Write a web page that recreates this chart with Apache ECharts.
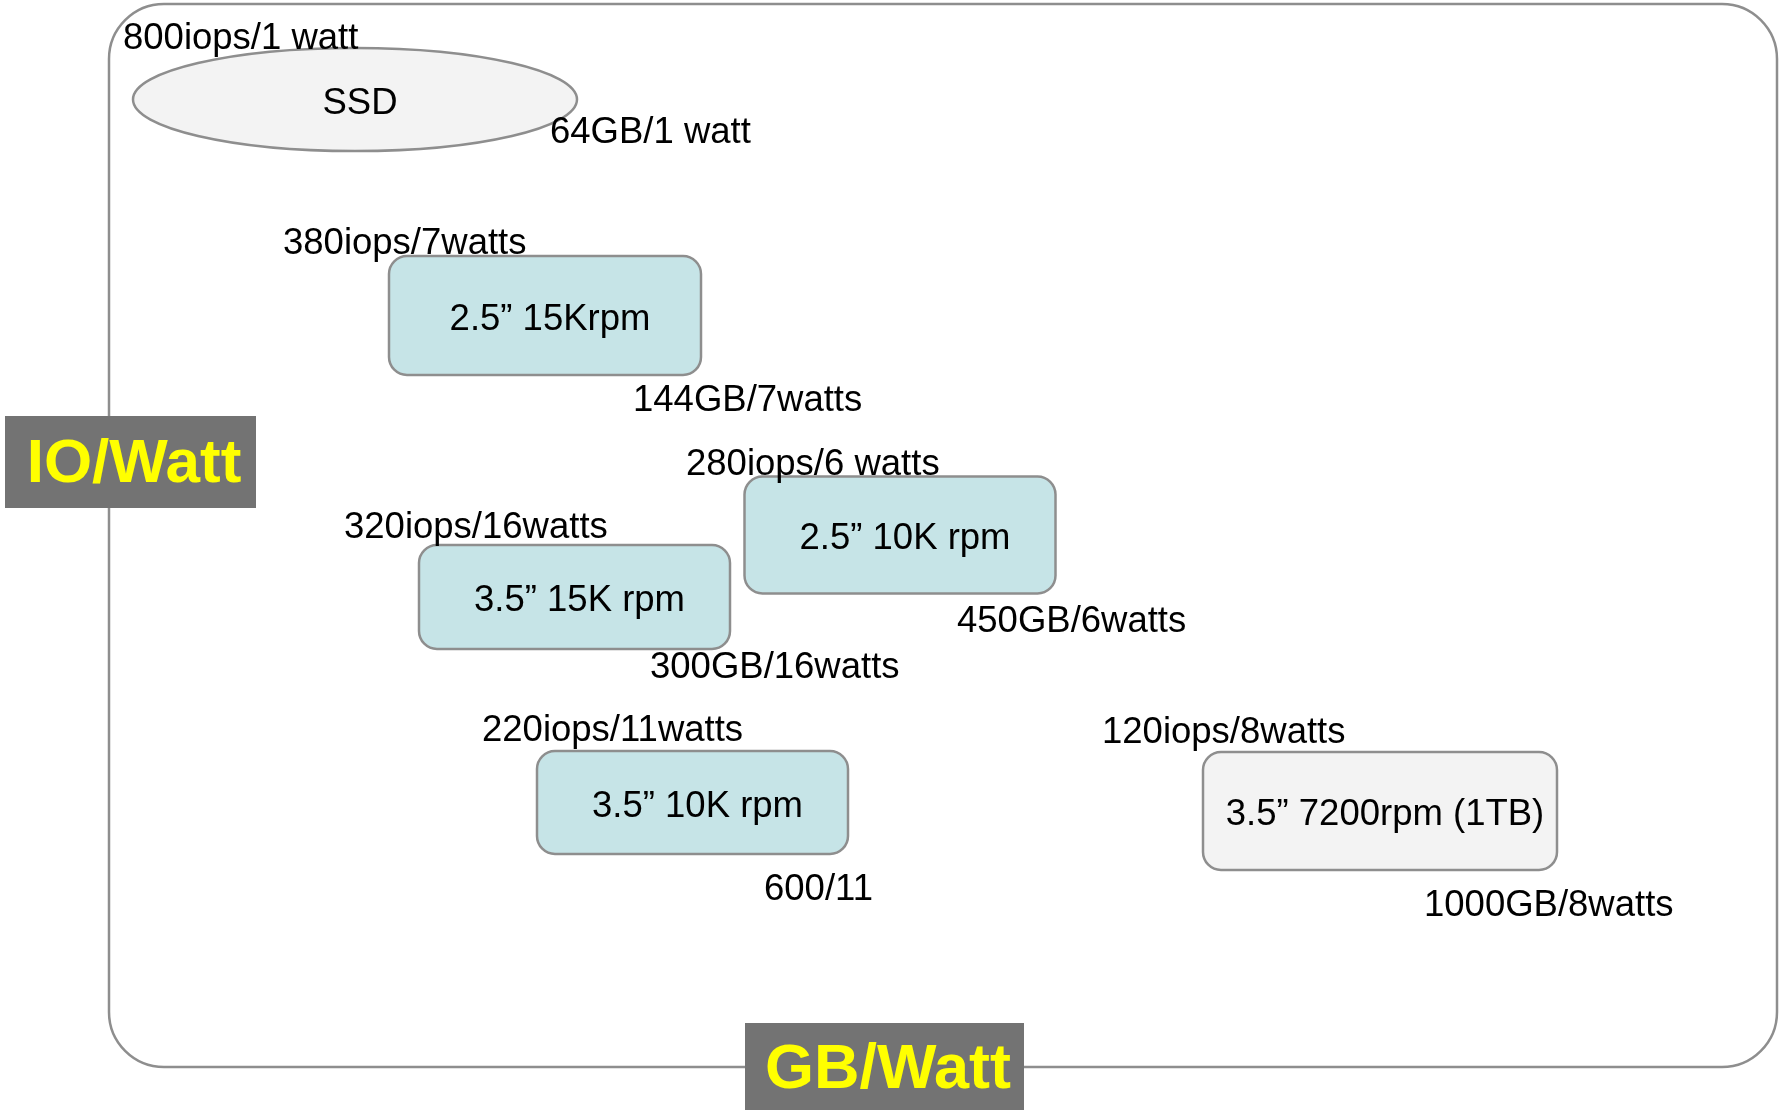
<!DOCTYPE html>
<html>
<head>
<meta charset="utf-8">
<script src="https://cdn.jsdelivr.net/npm/echarts@6/dist/echarts.min.js"></script>
<style>
  html, body { margin: 0; padding: 0; background: #fff; }
  #container { width: 1781px; height: 1110px; }
</style>
</head>
<body>
<div id="container"></div>
<script>
// drives, placed on a GB/Watt (x) vs IO/Watt (y, top = best) plane
var devices = ['SSD', '2.5\u201d 15Krpm', '2.5\u201d 10K rpm', '3.5\u201d 15K rpm', '3.5\u201d 10K rpm', '3.5\u201d 7200rpm (1TB)'];
var iopsText = ['800iops/1 watt', '380iops/7watts', '280iops/6 watts', '320iops/16watts', '220iops/11watts', '120iops/8watts'];
var gbText = ['64GB/1 watt', '144GB/7watts', '450GB/6watts', '300GB/16watts', '600/11', '1000GB/8watts'];
var gbPos = [355, 545, 900, 574.5, 692.5, 1380];
var ioPos = [99.5, 315.5, 535, 597, 802.5, 811];
var boxW = [444, 312, 311, 311, 311, 354];
var boxH = [103, 119, 117, 104, 103, 118];
var iopsLabelX = [123, 283, 686, 344, 482, 1102];
var iopsLabelY = [38.5, 244, 465, 528, 731, 733];
var gbLabelX = [550, 633, 957, 650, 764, 1424];
var gbLabelY = [133, 401, 622, 668, 890, 906];
var boxColor = ['#f3f3f3', '#c6e4e7', '#c6e4e7', '#c6e4e7', '#c6e4e7', '#f3f3f3'];

var dom = document.getElementById('container');
var myChart = echarts.init(dom);

var font = '"Liberation Sans", Arial, sans-serif';

var data = devices.map(function (d, i) {
    return [gbPos[i], ioPos[i]];
});

function renderBox(params, api) {
    var i = params.dataIndex;
    var c = api.coord([api.value(0), api.value(1)]);
    var s = api.size([boxW[i], boxH[i]]);
    var w = Math.abs(s[0]), h = Math.abs(s[1]);
    var shape;
    if (i === 0) {
        shape = {
            type: 'ellipse',
            shape: { cx: c[0], cy: c[1], rx: w / 2, ry: h / 2 },
            style: { fill: boxColor[i], stroke: '#8e8e8e', lineWidth: 2.5 }
        };
    } else {
        shape = {
            type: 'rect',
            shape: { x: c[0] - w / 2, y: c[1] - h / 2, width: w, height: h, r: 18 },
            style: { fill: boxColor[i], stroke: '#8e8e8e', lineWidth: 2.5 }
        };
    }
    return {
        type: 'group',
        children: [
            shape,
            {
                type: 'text',
                style: {
                    text: devices[i], x: c[0] + 5, y: c[1] + 4,
                    align: 'center', verticalAlign: 'middle',
                    fontSize: 36.5, fontFamily: font, fill: '#000'
                }
            }
        ]
    };
}

function renderLabels(params, api) {
    var i = params.dataIndex;
    var a = api.coord([iopsLabelX[i], iopsLabelY[i]]);
    var b = api.coord([gbLabelX[i], gbLabelY[i]]);
    return {
        type: 'group',
        children: [
            {
                type: 'text',
                style: { text: iopsText[i], x: a[0], y: a[1], align: 'left', verticalAlign: 'middle', fontSize: 36.5, fontFamily: font, fill: '#000' }
            },
            {
                type: 'text',
                style: { text: gbText[i], x: b[0], y: b[1], align: 'left', verticalAlign: 'middle', fontSize: 36.5, fontFamily: font, fill: '#000' }
            }
        ]
    };
}

var option = {
    animation: false,
    backgroundColor: '#ffffff',
    grid: { left: 0, right: 0, top: 0, bottom: 0 },
    xAxis: { type: 'value', min: 0, max: 1781, show: false },
    yAxis: { type: 'value', min: 0, max: 1110, inverse: true, show: false },
    graphic: [
        {
            type: 'rect', z: 1,
            shape: { x: 109, y: 4, width: 1668, height: 1063, r: 55 },
            style: { fill: null, stroke: '#8e8e8e', lineWidth: 2.5 }
        },
        { type: 'rect', z: 10, shape: { x: 5, y: 416, width: 251, height: 92 }, style: { fill: '#737373' } },
        { type: 'text', z: 11, style: { text: 'IO/Watt', x: 134, y: 465, align: 'center', verticalAlign: 'middle', fontSize: 62, fontWeight: 'bold', fontFamily: font, fill: '#ffff00' } },
        { type: 'rect', z: 10, shape: { x: 745, y: 1023, width: 279, height: 95 }, style: { fill: '#737373' } },
        { type: 'text', z: 11, style: { text: 'GB/Watt', x: 888, y: 1071, align: 'center', verticalAlign: 'middle', fontSize: 63, fontWeight: 'bold', fontFamily: font, fill: '#ffff00' } }
    ],
    series: [
        {
            type: 'custom', name: 'drives', z: 2,
            renderItem: renderBox,
            data: data
        },
        {
            type: 'custom', name: 'labels', z: 3,
            renderItem: renderLabels,
            data: data
        }
    ]
};

myChart.setOption(option, true);
</script>
</body>
</html>
